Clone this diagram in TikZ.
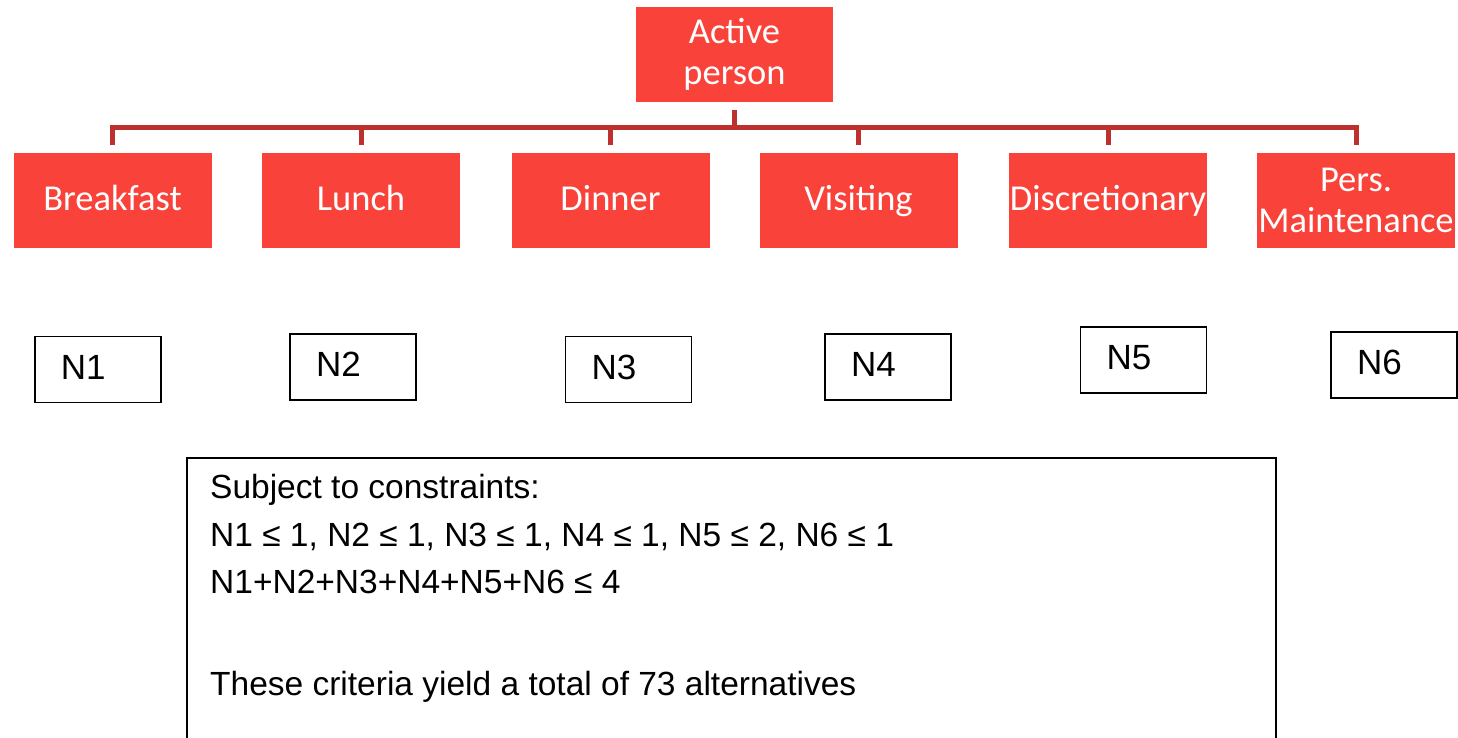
\documentclass[tikz,border=0pt]{standalone}
\usepackage{fontspec}
\newfontfamily\calib{Carlito}
\newfontfamily\arialf{Liberation Sans}
\definecolor{boxred}{RGB}{248,66,58}
\definecolor{linered}{RGB}{190,48,45}
\begin{document}
\begin{tikzpicture}[x=1pt,y=-1pt,
  redbox/.style={fill=boxred,draw=none,minimum width=198pt,minimum height=95pt,inner sep=0pt,
    text=white,font=\calib\fontsize{36.5}{41}\selectfont,align=center},
  oneline/.style={text height=25pt,text depth=5pt},
  nbox/.style={draw=black,line width=1.5pt,minimum height=66pt,inner xsep=26pt,inner ysep=0pt,
    text width=74pt,align=left,text height=25pt,text depth=6pt,font=\arialf\fontsize{35}{40}\selectfont},
  conn/.style={draw=linered,line width=5pt},
  txt/.style={anchor=base west,inner sep=0pt,font=\arialf\fontsize{33.5}{40}\selectfont}]
\useasboundingbox (0,0) rectangle (1458,737);
\node[redbox,minimum width=197pt] (act) at (734.5,54.5) {Active\\person};
\node[redbox,oneline] (c1) at (112.5,200.5) {Breakfast};
\node[redbox,oneline] (c2) at (361,200.5) {Lunch};
\node[redbox,oneline] (c3) at (610.5,200.5) {Dinner};
\node[redbox,oneline] (c4) at (858.5,200.5) {Visiting};
\node[redbox,oneline] (c5) at (1108,200.5) {Discretionary};
\node[redbox] (c6) at (1356,200.5) {Pers.\\Maintenance};
\foreach \c in {c1,c2,c3,c4,c5,c6}{
  \draw[conn] ([yshift=-8pt]act.south) -- ++(0,17) -| ([yshift=8pt]\c.north);
}
\node[nbox] (n1) at (97.75,369.5) {N1};
\node[nbox] (n2) at (353,367) {N2};
\node[nbox] (n3) at (628.5,369.5) {N3};
\node[nbox] (n4) at (888,367) {N4};
\node[nbox] (n5) at (1143.5,360) {N5};
\node[nbox] (n6) at (1394,365) {N6};
\node[draw=black,line width=1.5pt,minimum width=1089pt,minimum height=300pt,anchor=north west,inner sep=0pt] (cons) at (186,457) {};
\node[txt] (l1) at (210,498) {Subject to constraints:};
\node[txt] (l2) at (210,546) {N1 ≤ 1, N2 ≤ 1, N3 ≤ 1, N4 ≤ 1, N5 ≤ 2, N6 ≤ 1};
\node[txt] (l3) at (210,593) {N1+N2+N3+N4+N5+N6 ≤ 4};
\node[txt] (l4) at (210,695) {These criteria yield a total of 73 alternatives};
\end{tikzpicture}
\end{document}
